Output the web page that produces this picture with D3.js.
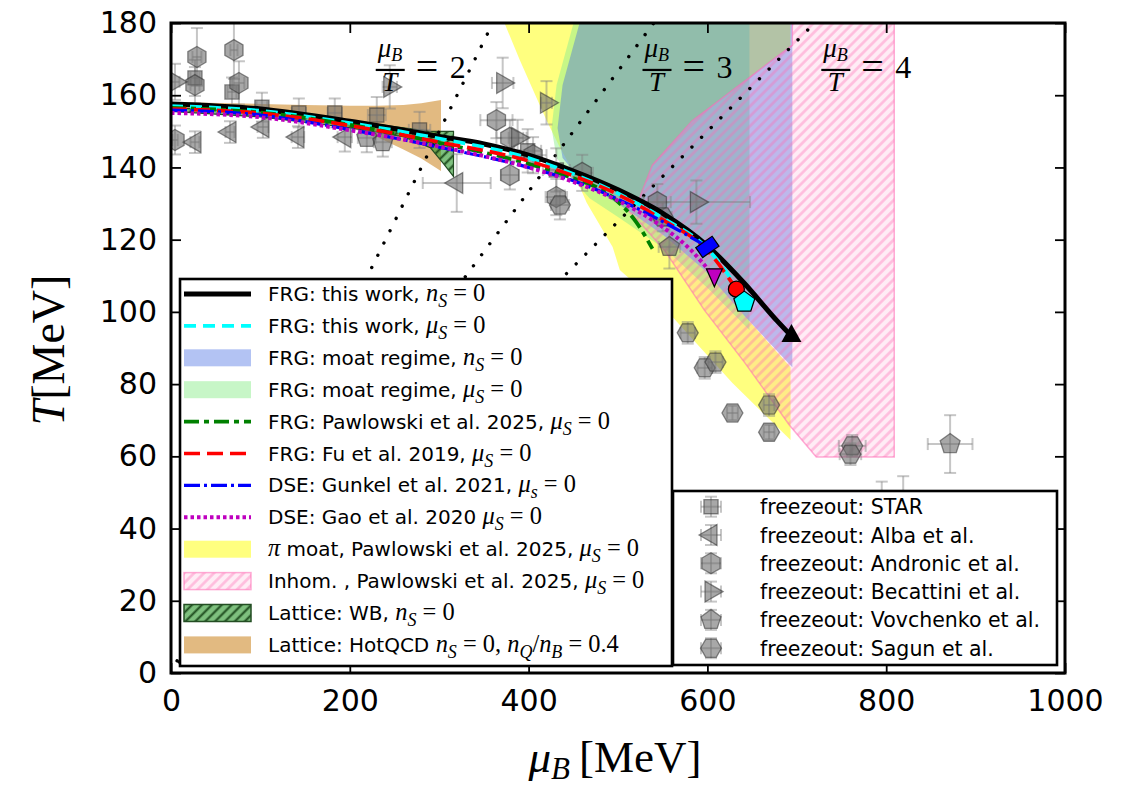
<!DOCTYPE html>
<html><head><meta charset="utf-8">
<script src="https://cdn.jsdelivr.net/npm/d3@7"></script>
<style>body{margin:0;background:#fff}svg{display:block}text{white-space:pre}</style>
</head><body><svg id="c" width="1135" height="786"></svg>
<script>
// ---------------- DATA ----------------
const xTicks = [0,200,400,600,800,1000];
const yTicks = [0,20,40,60,80,100,120,140,160,180];
const muOverT = [2,3,4];

// crossover curves [muB, T]
const frgNs0 = [[0,157.6],[100,156.2],[200,152.8],[300,148.6],[350,146.5],[400,143.4],[450,139],[500,133.8],[550,127.3],[600,118.3],[641,108],[678,97.5],[694,93.3]];
const frgMuS0 = [[0,157],[100,155.7],[200,152.3],[300,148],[400,142.6],[450,138.2],[500,132.8],[550,126],[600,117.5],[620,111.5],[641.3,102.7]];
const pawlowski = [[0,156.5],[100,155.2],[200,151.8],[300,146.8],[400,141],[450,137],[480,134],[500,130.5],[520,125],[538.5,117.5]];
const fu2019 = [[0,156.2],[100,155],[200,151.6],[300,147],[400,141.8],[450,137.7],[500,132.5],[550,125.5],[600,117],[632.4,106.3]];
const gunkel = [[0,155.9],[100,154.5],[200,150.5],[300,145.6],[400,140],[450,136.3],[500,131.2],[550,125],[600,118]];
const gao = [[0,155.1],[100,153.9],[200,150.3],[300,145.8],[400,140],[450,136],[500,130.8],[550,123.5],[580,117.5],[607.8,109.7]];

// regions [muB, T]
const piMoat = [[373,180],[390,169.8],[420,153.1],[434.6,145.7],[449,139.3],[465,130.2],[494,118],[502,111.6],[561,98.6],[628,80.3],[693,64.5],[693,84.7],[643.6,98.3],[596.6,111.6],[552,121],[510.6,128.2],[524,131.5],[538.5,140.7],[583,152.9],[693,173.6],[693,180]];
const moatMuS0 = [[450.3,180],[431.3,162.8],[425.7,150.9],[431.3,142.6],[448,137.1],[468.2,131.5],[501.7,126],[554.2,117.1],[602.2,106.1],[647,95],[647,180]];
const moatNs0 = [[457,180],[695,180],[695,84.7],[643.6,98.3],[596.6,111.6],[552,121],[510.6,128.2],[479.3,133.2],[457,137.1],[438,142.6],[432.4,150.9],[438,162.8]];
const inhom = [[695,180],[809,180],[809,59.8],[721.8,59.8],[691.6,68.7],[641.3,86.1],[596.6,100.5],[552,117.1],[524,124.9],[510.6,128.2],[524,131.5],[538.5,140.7],[583,152.9],[695,173.9]];
const hotqcdMu = [0,100,150,200,230,260,280,302];
const hotqcdUp = [158.1,157.6,157.3,157.1,157.1,157.3,157.8,158.7];
const hotqcdLo = [156.3,155,153.5,151,148.5,145,142.5,139];
const wbMu = [0,100,200,260,290,305,316];
const wbUp = [156.5,155.5,153,151,150,150,150];
const wbLo = [155.5,154,151,148.5,145.5,141,137.5];

// freeze-out points [muB, T, dMuB, dT]
const fzSTAR = [[26.8,164.8,5,5],[68.2,160.9,5,4],[101.7,156.7,6,4],[143,155.1,8,4],[183.2,155.1,8,4],[230.2,154.5,10,5],[278,150.4,12,5],[399,144.6,15,6],[431,139.3,15,6]];
const fzAlba = [[26.8,147,5,3],[66,149.8,5,3],[102.8,151.2,6,3],[142,148.4,7,3],[194.4,148.4,8,4],[319.6,135.7,38,8]];
const fzAndronic = [[4.5,147.6,3,4],[29,170.6,5,8],[26.8,162.8,5,5],[70.4,172.5,4,8],[76,163.4,6,6],[364,153.1,18,5],[379,148.2,15,5],[405,143.4,15,5],[379,137.9,10,4],[431,131.8,12,5],[460,138.5,12,5],[544,130.4,15,5]];
const fzBecattini = [[4.5,163.7,5,5],[244.7,162.3,8,6],[371,163.4,12,7],[420,157.9,6,6],[387.7,148.2,10,5],[587.7,130.4,60,6]];
const fzVovchenko = [[219,148.2,10,4],[236.9,147,10,4],[557.5,118,12,6],[871.5,63.4,25,8],[819,46.5,15,8],[795,46,12,7]];
const fzSagun = [[435,129.6,10,4],[550,126.3,10,4],[578,94.2,8,3],[597,84.5,8,3],[609,86.1,8,3],[628,72,6,2],[669,74.2,6,3],[669,66.7,6,2],[762,62.9,15,3],[760,60.6,12,3]];

const legend1Labels = [
 [['FRG: this work, ','s'],['n','i'],['S','b'],[' = 0','r']],
 [['FRG: this work, ','s'],['μ','i'],['S','b'],[' = 0','r']],
 [['FRG: moat regime, ','s'],['n','i'],['S','b'],[' = 0','r']],
 [['FRG: moat regime, ','s'],['μ','i'],['S','b'],[' = 0','r']],
 [['FRG: Pawlowski et al. 2025, ','s'],['μ','i'],['S','b'],[' = 0','r']],
 [['FRG: Fu et al. 2019, ','s'],['μ','i'],['S','b'],[' = 0','r']],
 [['DSE: Gunkel et al. 2021, ','s'],['μ','i'],['s','b'],[' = 0','r']],
 [['DSE: Gao et al. 2020 ','s'],['μ','i'],['S','b'],[' = 0','r']],
 [['π','i'],[' moat, Pawlowski et al. 2025, ','s'],['μ','i'],['S','b'],[' = 0','r']],
 [['Inhom. , Pawlowski et al. 2025, ','s'],['μ','i'],['S','b'],[' = 0','r']],
 [['Lattice: WB, ','s'],['n','i'],['S','b'],[' = 0','r']],
 [['Lattice: HotQCD ','s'],['n','i'],['S','b'],[' = 0, ','r'],['n','i'],['Q','b'],['/','r'],['n','i'],['B','b'],[' = 0.4','r']]
];
const legend2Labels = ['freezeout: STAR','freezeout: Alba et al.','freezeout: Andronic et al.','freezeout: Becattini et al.','freezeout: Vovchenko et al.','freezeout: Sagun et al.'];

// ---------------- DRAW ----------------
const svg = d3.select('#c');
const L=171,R=1065,T=23,B=673;
const x = d3.scaleLinear().domain([0,1000]).range([L,R]);
const y = d3.scaleLinear().domain([0,180]).range([B,T]);
const defs = svg.append('defs');
defs.append('clipPath').attr('id','clip').append('rect').attr('x',L).attr('y',T).attr('width',R-L).attr('height',B-T);
function hatch(id,bg,line,lw,gap){
  const p=defs.append('pattern').attr('id',id).attr('patternUnits','userSpaceOnUse')
    .attr('width',gap).attr('height',gap).attr('patternTransform','rotate(45)');
  p.append('rect').attr('width',gap).attr('height',gap).attr('fill',bg);
  p.append('line').attr('x1',gap/2).attr('x2',gap/2).attr('y1',0).attr('y2',gap).attr('stroke',line).attr('stroke-width',lw);
}
hatch('pinkH','rgba(255,105,180,0.13)','rgba(255,105,180,0.38)',2.6,7);
hatch('wbH','rgba(40,150,40,0.6)','#1d4a1d',2,7);

const g = svg.append('g').attr('clip-path','url(#clip)');
const poly = d3.line().x(d=>x(d[0])).y(d=>y(d[1]));

// bands
const band = (mu,up,lo)=>d3.area().x((d,i)=>x(mu[i])).y0((d,i)=>y(lo[i])).y1((d,i)=>y(up[i]))(mu);
g.append('path').attr('d',band(hotqcdMu,hotqcdUp,hotqcdLo)).attr('fill','rgba(215,160,80,0.72)');
g.append('path').attr('d',band(wbMu,wbUp,wbLo)).attr('fill','url(#wbH)').attr('stroke','#234d23').attr('stroke-width',1.2);

g.append('path').attr('d',poly(piMoat)+'Z').attr('fill','rgba(255,255,0,0.5)');
g.append('path').attr('d',poly(moatMuS0)+'Z').attr('fill','rgba(144,238,144,0.5)');
g.append('path').attr('d',poly(moatNs0)+'Z').attr('fill','rgba(65,105,225,0.4)');
g.append('path').attr('d',poly(inhom)+'Z').attr('fill','url(#pinkH)').attr('stroke','rgba(255,105,180,0.55)').attr('stroke-width',1.5);

// mu/T lines
muOverT.forEach(k=>{
  g.append('line').attr('x1',x(0)).attr('y1',y(0)).attr('x2',x(180*k)).attr('y2',y(180))
   .attr('stroke','#000').attr('stroke-width',3.4).attr('stroke-linecap','round').attr('stroke-dasharray','0.01 13.7');
});

// freeze-out points
function regPoly(n,r,rotDeg){
  const pts=[];for(let i=0;i<n;i++){const a=(rotDeg+i*360/n)*Math.PI/180;pts.push([r*Math.cos(a),r*Math.sin(a)]);}
  return 'M'+pts.map(p=>p[0].toFixed(2)+','+p[1].toFixed(2)).join('L')+'Z';
}
const shapes = {
  star: regPoly(4,10,45), alba: regPoly(3,12,180), andronic: regPoly(6,10.5,-90),
  becattini: regPoly(3,12,0), vovchenko: regPoly(5,10.5,-90), sagun: regPoly(6,10.5,0)
};
const fzSeries = [[fzSTAR,'star'],[fzAlba,'alba'],[fzAndronic,'andronic'],[fzBecattini,'becattini'],[fzVovchenko,'vovchenko'],[fzSagun,'sagun']];
function errbar(sel,cx,cy,ex,ey){
  const e=sel.append('g').attr('stroke','rgba(128,128,128,0.45)').attr('stroke-width',2);
  e.append('line').attr('x1',cx-ex).attr('x2',cx+ex).attr('y1',cy).attr('y2',cy);
  e.append('line').attr('x1',cx).attr('x2',cx).attr('y1',cy-ey).attr('y2',cy+ey);
  e.append('line').attr('x1',cx-6).attr('x2',cx+6).attr('y1',cy-ey).attr('y2',cy-ey);
  e.append('line').attr('x1',cx-6).attr('x2',cx+6).attr('y1',cy+ey).attr('y2',cy+ey);
  e.append('line').attr('x1',cx-ex).attr('x2',cx-ex).attr('y1',cy-6).attr('y2',cy+6);
  e.append('line').attr('x1',cx+ex).attr('x2',cx+ex).attr('y1',cy-6).attr('y2',cy+6);
}
function marker(sel,shape,cx,cy){
  sel.append('path').attr('d',shapes[shape]).attr('transform',`translate(${cx},${cy})`)
    .attr('fill','rgba(110,110,110,0.6)').attr('stroke','rgba(50,50,50,0.55)').attr('stroke-width',1.3);
}
fzSeries.forEach(([data,shape])=>{
  data.forEach(d=>{
    const cx=x(d[0]),cy=y(d[1]);
    errbar(g,cx,cy,x(d[0]+d[2])-cx,cy-y(d[1]+d[3]));
  });
});
fzSeries.forEach(([data,shape])=>{
  data.forEach(d=>marker(g,shape,x(d[0]),y(d[1])));
});

// curves
const curve = d3.line().x(d=>x(d[0])).y(d=>y(d[1])).curve(d3.curveMonotoneX);
const curveStyles = [
  [frgNs0,'#000',5,null],
  [frgMuS0,'#00ffff',3.6,'12,7'],
  [pawlowski,'#008000',3.8,'15,5,5,5'],
  [fu2019,'#ff0000',3.6,'16,7'],
  [gunkel,'#0000ff',3.2,'16,4,3,4'],
  [gao,'#bf00bf',4,'3.5,3']
];
curveStyles.forEach(([d,c,w,da])=>{
  const p=g.append('path').attr('d',curve(d)).attr('fill','none').attr('stroke',c).attr('stroke-width',w);
  if(da)p.attr('stroke-dasharray',da);
});
// end markers
const lastOf = a=>a[a.length-1];
{
  const [mx,my]=[x(lastOf(frgNs0)[0]),y(lastOf(frgNs0)[1])];
  g.append('path').attr('d','M0,-12L10,6L-10,6Z').attr('transform',`translate(${mx},${my})`).attr('fill','#000');
  const b=lastOf(gunkel);
  g.append('rect').attr('x',-10).attr('y',-6).attr('width',20).attr('height',12)
   .attr('transform',`translate(${x(b[0])},${y(b[1])}) rotate(-35)`).attr('fill','#0000ff').attr('stroke','#000').attr('stroke-width',1.2);
  const m=lastOf(gao);
  g.append('path').attr('d','M-8,-8L8,-8L0,10Z').attr('transform',`translate(${x(m[0])},${y(m[1])})`).attr('fill','#bf00bf').attr('stroke','#000').attr('stroke-width',1.2);
  const r=lastOf(fu2019);
  g.append('circle').attr('cx',x(r[0])).attr('cy',y(r[1])).attr('r',8).attr('fill','#ff0000').attr('stroke','#000').attr('stroke-width',1.2);
  const c=lastOf(frgMuS0);
  g.append('path').attr('d',regPoly(5,11,-90)).attr('transform',`translate(${x(c[0])},${y(c[1])})`).attr('fill','#00ffff').attr('stroke','#000').attr('stroke-width',1.2);
}

// mu/T annotations
const serif='Liberation Serif';
function fracLabel(mu,t,k){
  const bx=x(mu),by=y(t);
  const a=svg.append('g').attr('transform',`translate(${bx},${by})`);
  const num=a.append('text').attr('x',2).attr('y',-13).attr('font-family',serif).attr('font-style','italic');
  num.append('tspan').attr('font-size',27).text('μ');
  num.append('tspan').attr('font-size',18).attr('dy',4).text('B');
  a.append('line').attr('x1',0).attr('x2',29).attr('y1',0).attr('y2',0).attr('stroke','#000').attr('stroke-width',2.2);
  a.append('text').attr('x',14).attr('y',21).attr('text-anchor','middle').attr('font-family',serif).attr('font-style','italic').attr('font-size',27).text('T');
  a.append('text').attr('x',40).attr('y',10).attr('font-family',serif).attr('font-size',40).text('=');
  a.append('text').attr('x',74).attr('y',8).attr('font-family',serif).attr('font-size',32).text(String(k));
}
fracLabel(229,167,muOverT[0]);
fracLabel(527.4,167,muOverT[1]);
fracLabel(727.4,167,muOverT[2]);

// axes
const ax = svg.append('g');
ax.append('g').attr('transform',`translate(0,${B})`).call(d3.axisBottom(x).tickValues(xTicks).tickFormat(d3.format('d')).tickSizeInner(-10).tickSizeOuter(0).tickPadding(17));
ax.append('g').attr('transform',`translate(0,${T})`).call(d3.axisTop(x).tickValues(xTicks).tickSizeInner(-10).tickSizeOuter(0).tickFormat(''));
ax.append('g').attr('transform',`translate(${L},0)`).call(d3.axisLeft(y).tickValues(yTicks).tickFormat(d3.format('d')).tickSizeInner(-10).tickSizeOuter(0).tickPadding(14));
ax.append('g').attr('transform',`translate(${R},0)`).call(d3.axisRight(y).tickValues(yTicks).tickSizeInner(-10).tickSizeOuter(0).tickFormat(''));
ax.selectAll('.domain').remove();
ax.selectAll('.tick line').attr('stroke','#000').attr('stroke-width',1.8);
ax.selectAll('.tick text').attr('font-family','DejaVu Sans').attr('font-size',30).attr('fill','#000');

// legend 1
const lg1=svg.append('g');
lg1.append('rect').attr('x',180).attr('y',279).attr('width',492).attr('height',387).attr('fill','#fff').attr('stroke','#000').attr('stroke-width',2.6);
const h1 = [
  {t:'line',c:'#000',w:5},
  {t:'line',c:'#00ffff',w:3.6,d:'12,7'},
  {t:'patch',f:'rgba(65,105,225,0.4)'},
  {t:'patch',f:'rgba(144,238,144,0.5)'},
  {t:'line',c:'#008000',w:3.8,d:'15,5,5,5'},
  {t:'line',c:'#ff0000',w:3.6,d:'16,7'},
  {t:'line',c:'#0000ff',w:3.2,d:'16,4,3,4'},
  {t:'line',c:'#bf00bf',w:4,d:'3.5,3'},
  {t:'patch',f:'rgba(255,255,0,0.5)'},
  {t:'patch',f:'url(#pinkH)',s:'rgba(255,105,180,0.55)'},
  {t:'patch',f:'url(#wbH)',s:'#234d23'},
  {t:'patch',f:'rgba(215,160,80,0.72)'}
];
function rich(t,parts,fs){
  let shift=0;
  parts.forEach(([txt,k])=>{
    const ts=t.append('tspan').text(txt);
    let dy;
    if(k==='b'){dy=fs*0.3-shift;shift=fs*0.3;}else{dy=-shift;shift=0;}
    if(dy)ts.attr('dy',dy);
    if(k==='s')ts.attr('font-family','DejaVu Sans').attr('font-size',fs);
    if(k==='i')ts.attr('font-family',serif).attr('font-style','italic').attr('font-size',fs*1.22);
    if(k==='r')ts.attr('font-family',serif).attr('font-size',fs*1.22);
    if(k==='b')ts.attr('font-family',serif).attr('font-style','italic').attr('font-size',fs*0.9);
  });
}
legend1Labels.forEach((lab,i)=>{
  const cy=294+i*31.9, h=h1[i];
  if(h.t==='line'){
    const l=lg1.append('line').attr('x1',184).attr('x2',251).attr('y1',cy).attr('y2',cy).attr('stroke',h.c).attr('stroke-width',h.w);
    if(h.d)l.attr('stroke-dasharray',h.d);
  } else {
    const r=lg1.append('rect').attr('x',184).attr('y',cy-8.5).attr('width',67).attr('height',17).attr('fill',h.f);
    if(h.s)r.attr('stroke',h.s).attr('stroke-width',1.5);
  }
  const t=lg1.append('text').attr('x',268).attr('y',cy+7).attr('fill','#000');
  rich(t,lab,20);
});

// legend 2
const lg2=svg.append('g');
lg2.append('rect').attr('x',673).attr('y',491).attr('width',384).attr('height',174).attr('fill','#fff').attr('stroke','#000').attr('stroke-width',2.6);
const lg2Shapes=['star','alba','andronic','becattini','vovchenko','sagun'];
legend2Labels.forEach((lab,i)=>{
  const cy=506.7+i*28.3;
  errbar(lg2,711,cy,10,10);
  marker(lg2,lg2Shapes[i],711,cy);
  lg2.append('text').attr('x',760).attr('y',cy+7.5).attr('font-family','DejaVu Sans').attr('font-size',20.5).text(lab);
});

// spines
svg.append('rect').attr('x',L).attr('y',T).attr('width',R-L).attr('height',B-T).attr('fill','none').attr('stroke','#000').attr('stroke-width',3);

// axis labels
const xl=svg.append('text').attr('x',615).attr('y',772).attr('text-anchor','middle').attr('font-family',serif);
xl.append('tspan').attr('font-style','italic').attr('font-size',45).text('μ');
xl.append('tspan').attr('font-style','italic').attr('font-size',31).attr('dy',7).text('B');
xl.append('tspan').attr('font-size',45).attr('dy',-7).text('\u2009[MeV]');
const ylab=svg.append('text').attr('transform','translate(64,350) rotate(-90)').attr('text-anchor','middle').attr('font-family',serif).attr('font-size',46);
ylab.append('tspan').attr('font-style','italic').text('T');
ylab.append('tspan').text('[MeV]');
</script></body></html>
